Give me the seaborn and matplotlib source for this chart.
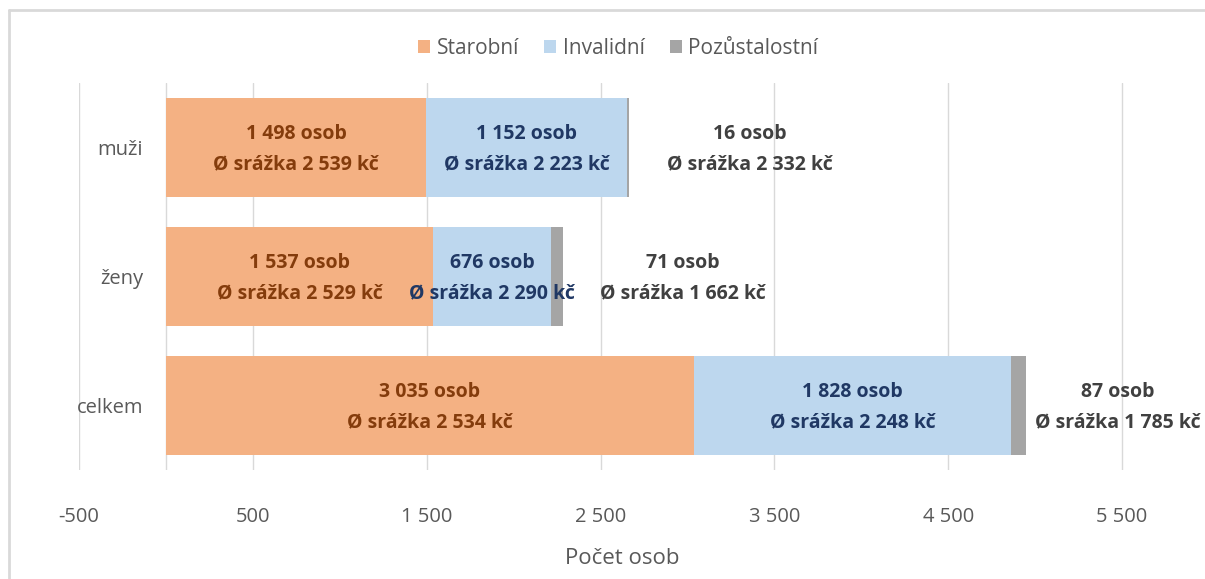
import matplotlib
matplotlib.use("Agg")
import matplotlib.pyplot as plt
import seaborn as sns
import pandas as pd
import numpy as np
from matplotlib.patches import Patch
from matplotlib.lines import Line2D

# ---- data ----
categories = ["muži", "ženy", "celkem"]
starobni = [1498, 1537, 3035]
invalidni = [1152, 676, 1828]
pozustalostni = [16, 71, 87]
srazka_starobni = ["2 539", "2 529", "2 534"]
srazka_invalidni = ["2 223", "2 290", "2 248"]
srazka_pozust = ["2 332", "1 662", "1 785"]
series_names = ["Starobní", "Invalidní", "Pozůstalostní"]
xticks = [-500, 500, 1500, 2500, 3500, 4500, 5500]
xlabel = "Počet osob"

colors = ["#F4B183", "#BDD7EE", "#A5A5A5"]
text_colors = ["#843C0C", "#203864", "#404040"]
grid_color = "#D9D9D9"
tick_color = "#595959"

sns.set_theme(style="white")
plt.rcParams["font.family"] = ["Open Sans", "DejaVu Sans"]

W, H = 1205, 579
fig = plt.figure(figsize=(W / 100, H / 100), dpi=100)
ax = fig.add_axes([79 / W, (H - 470) / H, 1130 / W, 387 / H])

df = pd.DataFrame({
    "kat": categories,
    "s": starobni,
    "i": invalidni,
    "p": pozustalostni,
})
df["si"] = df["s"] + df["i"]
df["sip"] = df["si"] + df["p"]

# stacked bars by overdrawing cumulative totals
sns.barplot(data=df, y="kat", x="sip", color=colors[2], width=0.76,
            orient="h", ax=ax, saturation=1, linewidth=0, zorder=3)
sns.barplot(data=df, y="kat", x="si", color=colors[1], width=0.76,
            orient="h", ax=ax, saturation=1, linewidth=0, zorder=3)
sns.barplot(data=df, y="kat", x="s", color=colors[0], width=0.76,
            orient="h", ax=ax, saturation=1, linewidth=0, zorder=3)

ax.set_xlim(-500, 6000)
ax.set_ylim(2.5, -0.5)
ax.set_xticks(xticks)
ax.set_xticklabels([f"{v:,}".replace(",", " ") for v in xticks])
ax.grid(axis="x", color=grid_color, linewidth=1, zorder=0)
ax.grid(axis="y", visible=False)
ax.axvline(0, color=grid_color, linewidth=1, zorder=1)
for sp in ax.spines.values():
    sp.set_visible(False)
ax.tick_params(axis="x", length=0, pad=27, labelsize=14.5, labelcolor=tick_color)
ax.tick_params(axis="y", length=0, pad=-46, labelsize=14.5, labelcolor=tick_color)
ax.set_xlabel("")
ax.set_ylabel("")

fs = 14
dy = 10.8
for i in range(len(categories)):
    s, iv, p = starobni[i], invalidni[i], pozustalostni[i]
    for txt, off in ((f"{s:,}".replace(",", " ") + " osob", dy - 1.2),
                     (f"Ø srážka {srazka_starobni[i]} kč", -dy - 1.2)):
        ax.annotate(txt, (s / 2, i), xytext=(0, off), textcoords="offset points",
                    ha="center", va="center", fontsize=fs, fontweight="bold",
                    color=text_colors[0], zorder=5)
    for txt, off in ((f"{iv:,}".replace(",", " ") + " osob", dy - 1.2),
                     (f"Ø srážka {srazka_invalidni[i]} kč", -dy - 1.2)):
        ax.annotate(txt, (s + iv / 2, i), xytext=(0, off), textcoords="offset points",
                    ha="center", va="center", fontsize=fs, fontweight="bold",
                    color=text_colors[1], zorder=5)
    xoff = [87, 86, 66][i]
    for txt, off in ((f"{p} osob", dy - 1.2),
                     (f"Ø srážka {srazka_pozust[i]} kč", -dy - 1.2)):
        ax.annotate(txt, (s + iv + p, i), xytext=(xoff, off), textcoords="offset points",
                    ha="center", va="center", fontsize=fs, fontweight="bold",
                    color=text_colors[2], zorder=5, annotation_clip=False)

fig.text(622 / W, 1 - 559 / H, xlabel, ha="center", va="center",
         fontsize=16, color=tick_color)

handles = [Patch(facecolor=c, edgecolor="none") for c in colors]
fig.legend(handles, series_names, loc="center", bbox_to_anchor=(618 / W, 1 - 48 / H),
           ncol=3, frameon=False, fontsize=15, labelcolor=tick_color,
           handlelength=0.6, handleheight=0.6, handletextpad=0.3, columnspacing=1.2)

# chart frame
fig.add_artist(Line2D([9 / W, 9 / W], [0, 1 - 10 / H], color=grid_color, lw=2,
                      transform=fig.transFigure))
fig.add_artist(Line2D([9 / W, 1], [1 - 10 / H, 1 - 10 / H], color=grid_color, lw=2,
                      transform=fig.transFigure))

fig.savefig("out.png", dpi=100, facecolor="white")
